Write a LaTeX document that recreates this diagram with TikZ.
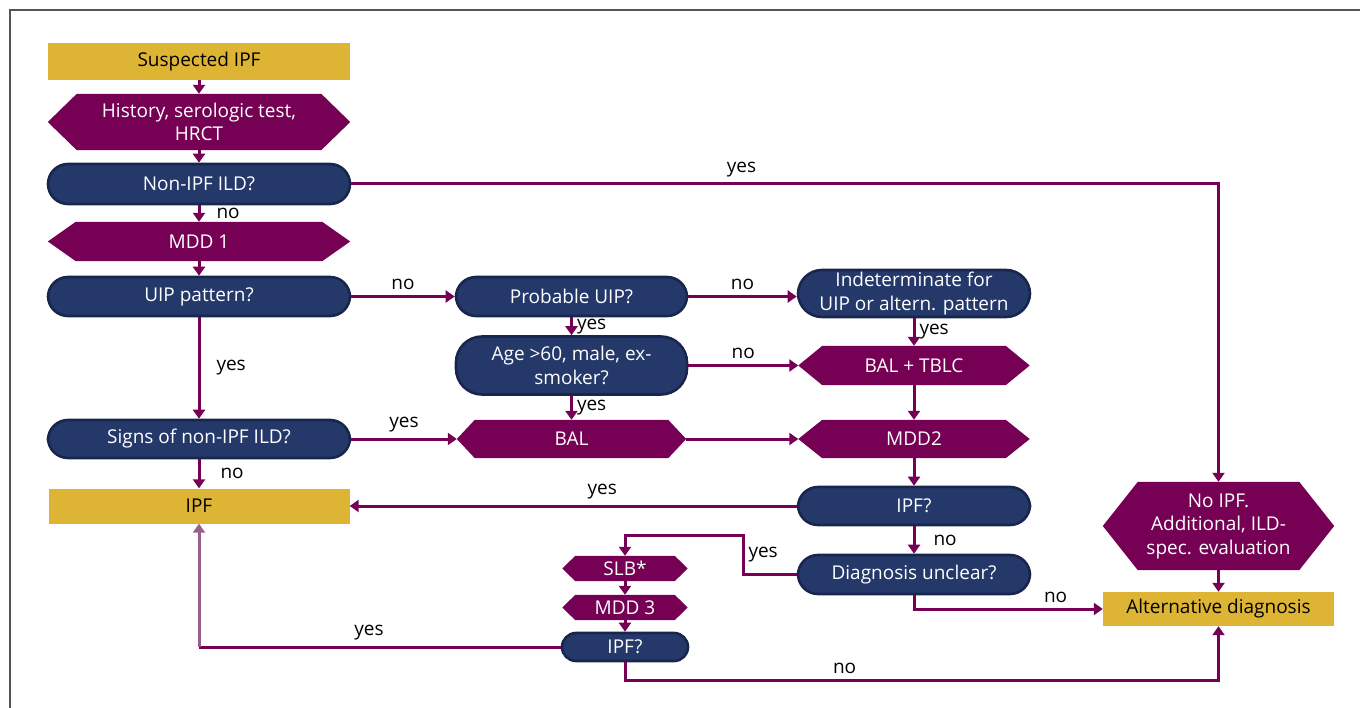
\documentclass[tikz,border=0pt]{standalone}
\usepackage{fontspec}
\setmainfont{Open Sans}
\usetikzlibrary{arrows.meta,backgrounds}

\definecolor{plum}{RGB}{117,0,84}
\definecolor{navy}{RGB}{36,57,106}
\definecolor{navyedge}{RGB}{24,38,78}
\definecolor{gold}{RGB}{222,180,52}
\definecolor{mauve}{RGB}{152,96,136}
\definecolor{framegray}{RGB}{85,85,85}

\tikzset{
  boxtext/.style={font=\fontsize{19}{23.5}\selectfont, align=center, inner sep=0pt},
  goldbox/.style={boxtext, rectangle, fill=gold, text=black},
  pill/.style={boxtext, rectangle, rounded corners=#1, fill=navy, draw=navyedge, line width=2.6pt, text=white},
  pill/.default=20pt,
  hexbox/.style={boxtext, rectangle, text=white},
  arr/.style={draw=plum, line width=3pt, -{Triangle[width=12pt,length=9pt]}},
  lbl/.style={font=\fontsize{19}{23.5}\selectfont, text=black, inner sep=2pt}
}

\begin{document}
\begin{tikzpicture}[x=1pt, y=-1pt]
  \useasboundingbox (0,0) rectangle (1360,708);

  % frame
  \draw[framegray, line width=2pt] (10,708) -- (10,10) -- (1360,10);

  % left column
  \node[goldbox, minimum width=302pt, minimum height=37pt] (susp) at (199,61.5) {Suspected IPF};
  \node[hexbox, minimum width=302pt, minimum height=56pt] (hist) at (199,122) {History, serologic test,\\HRCT};
  \node[pill, minimum width=302pt, minimum height=40pt] (nonipf) at (199,184) {Non-IPF ILD?};
  \node[hexbox, minimum width=302pt, minimum height=39pt] (mdd1) at (199,241.5) {MDD 1};
  \node[pill, minimum width=302pt, minimum height=39pt] (uip) at (199,296.5) {UIP pattern?};
  \node[pill, minimum width=302pt, minimum height=38pt] (signs) at (199,439) {Signs of non-IPF ILD?};
  \node[goldbox, minimum width=301pt, minimum height=35pt] (ipf) at (199,506) {IPF};

  % middle column
  \node[pill, minimum width=231pt, minimum height=39pt] (probuip) at (571.5,296.5) {Probable UIP?};
  \node[pill=26pt, minimum width=231pt, minimum height=58pt] (age) at (571.5,365.5) {Age >60, male, ex-\\smoker?};
  \node[hexbox, minimum width=229pt, minimum height=38pt] (bal) at (571.5,439) {BAL};

  % right-middle column
  \node[pill=24pt, minimum width=232pt, minimum height=47pt] (indet) at (914,293.5) {Indeterminate for\\UIP or altern. pattern};
  \node[hexbox, minimum width=231pt, minimum height=39pt] (baltblc) at (914,365.5) {BAL + TBLC};
  \node[hexbox, minimum width=231pt, minimum height=38pt] (mdd2) at (914,439) {MDD2};
  \node[pill, minimum width=232pt, minimum height=38pt] (ipfq) at (914,506) {IPF?};
  \node[pill, minimum width=232pt, minimum height=39pt] (diag) at (914,574.5) {Diagnosis unclear?};

  % biopsy branch
  \node[hexbox, minimum width=125pt, minimum height=25pt] (slb) at (625,568.5) {SLB*};
  \node[hexbox, minimum width=125pt, minimum height=25pt] (mdd3) at (625,607.5) {MDD 3};
  \node[pill=14pt, minimum width=126pt, minimum height=28pt] (ipfq2) at (625,647) {IPF?};

  % far right
  \node[hexbox, minimum width=231pt, minimum height=88pt] (noipf) at (1218.5,526) {No IPF.\\Additional, ILD-\\spec. evaluation};
  \node[goldbox, minimum width=231pt, minimum height=34pt] (alt) at (1218.5,609) {Alternative diagnosis};

  % hexagon backgrounds
  \begin{scope}[on background layer]
    \foreach \n/\d in {hist/29,mdd1/28,bal/18,baltblc/24,mdd2/24,slb/13,mdd3/13,noipf/35}
      \fill[plum] (\n.west) -- ([xshift=\d pt]\n.north west) -- ([xshift=-\d pt]\n.north east)
        -- (\n.east) -- ([xshift=-\d pt]\n.south east) -- ([xshift=\d pt]\n.south west) -- cycle;
  \end{scope}

  \coordinate (c1) at (743,535);
  \coordinate (c2) at (ipf.south |- ipfq2.west);

  % connectors
  \draw[arr] (susp.south) -- (hist.north);
  \draw[arr] (hist.south) -- (nonipf.north);
  \draw[arr] (nonipf.south) -- node[lbl, right=14pt] {no} (mdd1.north);
  \draw[arr] (mdd1.south) -- (uip.north);
  \draw[arr] (nonipf.east) -| node[lbl, pos=0.225, above=3pt] {yes} (noipf.north);
  \draw[arr] (uip.east) -- node[lbl, above=3pt] {no} (probuip.west);
  \draw[arr] (uip.south) -- node[lbl, right=14pt] {yes} (signs.north);
  \draw[arr] (probuip.east) -- node[lbl, above=3pt] {no} (probuip.east -| indet.west);
  \draw[arr] (probuip.south) -- node[lbl, right=2pt] {yes} (age.north);
  \draw[arr] (age.south) -- node[lbl, right=2pt] {yes} (bal.north);
  \draw[arr] (age.east) -- node[lbl, above=3pt] {no} (baltblc.west);
  \draw[arr] (indet.south) -- node[lbl, right=2pt] {yes} (baltblc.north);
  \draw[arr] (baltblc.south) -- (mdd2.north);
  \draw[arr] (signs.east) -- node[lbl, above=3pt] {yes} (bal.west);
  \draw[arr] (bal.east) -- (mdd2.west);
  \draw[arr] (signs.south) -- node[lbl, right=18pt] {no} (ipf.north);
  \draw[arr] (mdd2.south) -- (ipfq.north);
  \draw[arr] (ipfq.west) -- node[lbl, pos=0.435, above=3pt] {yes} (ipf.east);
  \draw[arr] (ipfq.south) -- node[lbl, right=16pt] {no} (diag.north);
  \draw[arr] (diag.west) -| node[lbl, pos=0.75, right=2pt] {yes} (c1) -| (slb.north);
  \draw[arr] (diag.south) |- node[lbl, pos=0.875, above=3pt] {no} (alt.west);
  \draw[arr] (slb.south) -- (mdd3.north);
  \draw[arr] (mdd3.south) -- (ipfq2.north);
  \draw[draw=plum, line width=3pt] (ipfq2.west) -- node[lbl, pos=0.53, above=3pt] {yes} (c2);
  \draw[arr, draw=mauve] (c2) -- (ipf.south);
  \draw[arr] (ipfq2.south) -- ++(0,18) -| node[lbl, pos=0.185, above=3pt] {no} (alt.south);
  \draw[arr] (noipf.south) -- (alt.north);
\end{tikzpicture}
\end{document}
